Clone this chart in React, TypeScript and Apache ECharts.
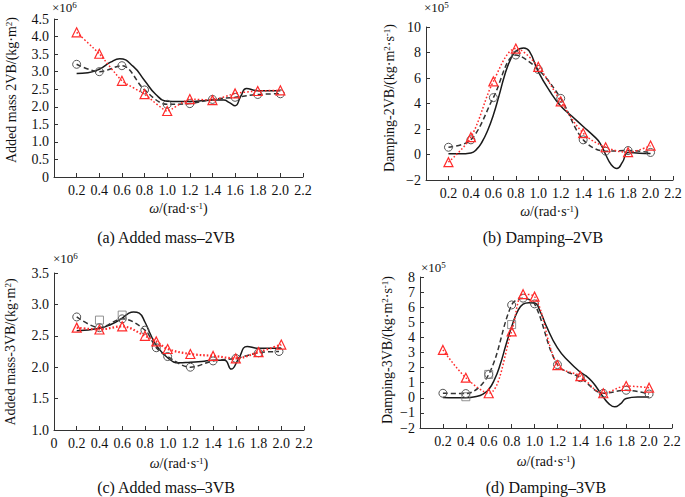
import React, { useEffect, useRef } from "react";
import * as echarts from "echarts";

const FONT = '"Liberation Serif", "Times New Roman", Times, serif';

// ---------- Panel (a): Added mass – 2VB (×10^6) ----------
const aX = [0.2, 0.4, 0.6, 0.8, 1.0, 1.2, 1.4, 1.6, 1.8, 2.0];
const aDashed = [3.21, 3.0, 3.17, 2.48, 2.07, 2.09, 2.21, 2.27, 2.35, 2.37];
const aRed = [4.12, 3.51, 2.74, 2.36, 1.88, 2.22, 2.19, 2.38, 2.45, 2.47];
const aSolidX = [0.2, 0.3, 0.4, 0.5, 0.58, 0.7, 0.8, 0.9, 1.0, 1.1, 1.2, 1.3, 1.4, 1.5, 1.55, 1.6, 1.65, 1.7, 1.8, 1.9, 2.0];
const aSolid = [2.95, 2.97, 3.07, 3.27, 3.37, 3.15, 2.75, 2.35, 2.16, 2.15, 2.15, 2.17, 2.19, 2.19, 2.12, 2.03, 2.3, 2.52, 2.46, 2.46, 2.46];

// ---------- Panel (b): Damping – 2VB (×10^5) ----------
const bX = [0.2, 0.4, 0.6, 0.8, 1.0, 1.2, 1.4, 1.6, 1.8, 2.0];
const bDashed = [0.57, 1.15, 4.46, 7.8, 6.67, 4.4, 1.15, 0.26, 0.31, 0.16];
const bRed = [-0.6, 1.36, 5.73, 8.31, 6.88, 4.17, 1.67, 0.57, 0.18, 0.7];
const bSolidX = [0.2, 0.3, 0.4, 0.45, 0.5, 0.55, 0.6, 0.65, 0.7, 0.75, 0.8, 0.87, 0.92, 1.0, 1.1, 1.2, 1.3, 1.4, 1.5, 1.55, 1.6, 1.65, 1.7, 1.75, 1.8, 1.9, 2.0];
const bSolid = [0.05, 0.05, 0.12, 0.4, 1.0, 1.9, 3.1, 4.6, 6.2, 7.4, 8.1, 8.35, 8.1, 6.5, 5.0, 3.8, 3.0, 2.2, 1.4, 0.9, 0.0, -0.8, -1.1, -0.6, 0.15, 0.1, 0.08];

// ---------- Panel (c): Added mass – 3VB (×10^6) ----------
const cX = [0.2, 0.4, 0.6, 0.8, 0.9, 1.0, 1.2, 1.4, 1.6, 1.8, 1.98];
const cDashed = [2.8, 2.63, 2.77, 2.59, 2.31, 2.17, 2.0, 2.1, 2.14, 2.23, 2.25];
const cRedX = [0.2, 0.4, 0.6, 0.8, 0.9, 1.0, 1.2, 1.4, 1.6, 1.8, 2.0];
const cRed = [2.63, 2.6, 2.65, 2.5, 2.41, 2.29, 2.21, 2.18, 2.14, 2.24, 2.36];
const cSquareX = [0.4, 0.6];
const cSquare = [2.75, 2.83];
const cSolidX = [0.2, 0.4, 0.5, 0.6, 0.65, 0.7, 0.75, 0.8, 0.85, 0.9, 1.0, 1.1, 1.2, 1.3, 1.4, 1.5, 1.56, 1.62, 1.7, 1.8, 1.9, 2.0];
const cSolid = [2.58, 2.62, 2.68, 2.78, 2.85, 2.88, 2.86, 2.72, 2.52, 2.35, 2.15, 2.07, 2.08, 2.09, 2.11, 2.11, 1.97, 2.12, 2.33, 2.3, 2.3, 2.3];

// ---------- Panel (d): Damping – 3VB (×10^5) ----------
const dX = [0.2, 0.4, 0.6, 0.8, 0.9, 1.0, 1.2, 1.4, 1.6, 1.8, 2.0];
const dDashed = [0.3, 0.28, 1.55, 6.15, 6.6, 6.22, 2.2, 1.33, 0.3, 0.5, 0.25];
const dRed = [3.17, 1.33, 0.3, 4.4, 6.86, 6.7, 2.17, 1.44, 0.3, 0.78, 0.67];
const dSquareX = [0.4, 0.6, 0.8];
const dSquare = [0.07, 1.55, 4.85];
const dSolidX = [0.2, 0.3, 0.4, 0.5, 0.55, 0.6, 0.65, 0.7, 0.75, 0.8, 0.85, 0.9, 0.95, 1.0, 1.05, 1.1, 1.2, 1.3, 1.4, 1.45, 1.5, 1.55, 1.6, 1.65, 1.7, 1.75, 1.8, 1.9, 2.0];
const dSolid = [0.02, 0.0, 0.0, 0.1, 0.25, 0.55, 1.2, 2.2, 3.5, 4.7, 5.7, 6.2, 6.3, 6.28, 5.7, 4.8, 3.3, 2.4, 1.7, 1.45, 1.1, 0.6, 0.05, -0.4, -0.6, -0.4, -0.05, 0.05, 0.05];

// ---------- Texts ----------
const captions = ["(a) Added mass–2VB", "(b) Damping–2VB", "(c) Added mass–3VB", "(d) Damping–3VB"];
const yNames = [
  "Added mass 2VB/(kg·m{sup|2})",
  "Damping-2VB/(kg·m{sup|2}·s{sup|-1})",
  "Added mass-3VB/(kg·m{sup|2})",
  "Damping-3VB/(kg·m{sup|2}·s{sup|-1})",
];
const multipliers = ["×10{sup|6}", "×10{sup|5}", "×10{sup|6}", "×10{sup|5}"];
const xName = "{i|ω}/(rad·s{sup|-1})";

const pairs = (xs: number[], ys: number[]) => xs.map((x, i) => [x, ys[i]]);

const RED = "#ff2b2b";
const richStyles = {
  sup: { fontSize: 9, fontFamily: FONT, verticalAlign: "top", color: "#111" },
  i: { fontStyle: "italic", fontSize: 14, fontFamily: FONT, color: "#111" },
};

function App() {
  const ref = useRef<HTMLDivElement>(null);

  useEffect(() => {
    if (!ref.current) return;
    const chart = echarts.init(ref.current, undefined, { renderer: "svg" });

    const grids = [
      { left: 54, top: 19, width: 249, height: 158 },
      { left: 426, top: 27, width: 247, height: 153 },
      { left: 54, top: 273, width: 250, height: 157 },
      { left: 420, top: 277, width: 252, height: 151 },
    ];

    const fmtX = (showZero: boolean) => (v: number) =>
      Math.abs(v) < 1e-9 ? (showZero ? "0" : "") : v.toFixed(1);
    const fmtDec = (v: number) => (Math.abs(v) < 1e-9 ? "0" : v.toFixed(1));
    const fmtInt = (v: number) => (v < 0 ? "−" + Math.abs(Math.round(v)) : String(Math.round(v)));

    const xAxis = [0, 1, 2, 3].map((g) => ({
      type: "value",
      gridIndex: g,
      min: 0,
      max: 2.2,
      interval: 0.2,
      axisLine: { show: true, onZero: false, lineStyle: { color: "#333", width: 1 } },
      axisTick: { show: true, inside: true, length: 4, lineStyle: { color: "#333" } },
      splitLine: { show: false },
      axisLabel: {
        fontFamily: FONT,
        fontSize: 14,
        color: "#111",
        margin: 6,
        formatter: fmtX(g === 2),
      },
      name: xName,
      nameLocation: "middle",
      nameGap: g >= 2 ? 26 : 24,
      nameTextStyle: { fontFamily: FONT, fontSize: 14, color: "#111", rich: richStyles },
    }));

    const yCfg = [
      { min: 0, max: 4.5, interval: 0.5, f: fmtDec },
      { min: -2, max: 10, interval: 2, f: fmtInt },
      { min: 1.0, max: 3.5, interval: 0.5, f: fmtDec },
      { min: -2, max: 8, interval: 1, f: fmtInt },
    ];
    const yAxis = yCfg.map((c, g) => ({
      type: "value",
      gridIndex: g,
      min: c.min,
      max: c.max,
      interval: c.interval,
      axisLine: { show: true, onZero: false, lineStyle: { color: "#333", width: 1 } },
      axisTick: { show: true, inside: true, length: 4, lineStyle: { color: "#333" } },
      splitLine: { show: false },
      axisLabel: { fontFamily: FONT, fontSize: 14, color: "#111", margin: 5, formatter: c.f },
    }));

    const solid = (g: number, xs: number[], ys: number[]) => ({
      type: "line",
      xAxisIndex: g,
      yAxisIndex: g,
      data: pairs(xs, ys),
      smooth: 0.5,
      showSymbol: false,
      symbol: "none",
      lineStyle: { color: "#1a1a1a", width: 1.5 },
      z: 2,
    });
    const dashed = (g: number, xs: number[], ys: number[]) => ({
      type: "line",
      xAxisIndex: g,
      yAxisIndex: g,
      data: pairs(xs, ys),
      smooth: 0.35,
      symbol: "circle",
      symbolSize: 8,
      showSymbol: true,
      itemStyle: { color: "rgba(0,0,0,0)", borderColor: "#555", borderWidth: 1 },
      lineStyle: { color: "#333", width: 1.5, type: [5, 3] },
      z: 3,
    });
    const red = (g: number, xs: number[], ys: number[], w = 1.5, sm = 0.35) => ({
      type: "line",
      xAxisIndex: g,
      yAxisIndex: g,
      data: pairs(xs, ys),
      smooth: sm,
      symbol: "triangle",
      symbolSize: 9,
      showSymbol: true,
      itemStyle: { color: "rgba(0,0,0,0)", borderColor: RED, borderWidth: 1.2 },
      lineStyle: { color: RED, width: w, type: [1.6, 2] },
      z: 5,
    });
    const squares = (g: number, xs: number[], ys: number[]) => ({
      type: "scatter",
      xAxisIndex: g,
      yAxisIndex: g,
      data: pairs(xs, ys),
      symbol: "rect",
      symbolSize: 8,
      itemStyle: { color: "rgba(0,0,0,0)", borderColor: "#777", borderWidth: 1 },
      z: 4,
    });

    const series = [
      solid(0, aSolidX, aSolid),
      dashed(0, aX, aDashed),
      red(0, aX, aRed, 1.5, 0.15),
      solid(1, bSolidX, bSolid),
      dashed(1, bX, bDashed),
      red(1, bX, bRed),
      solid(2, cSolidX, cSolid),
      dashed(2, cX, cDashed),
      squares(2, cSquareX, cSquare),
      red(2, cRedX, cRed, 2.2),
      solid(3, dSolidX, dSolid),
      dashed(3, dX, dDashed),
      squares(3, dSquareX, dSquare),
      red(3, dX, dRed),
    ];

    const yNamePos = [
      [11, 90],
      [389, 98],
      [10, 352],
      [387, 350],
    ];
    const multPos = [
      [52, 7],
      [424, 7],
      [53, 258],
      [421, 267],
    ];
    const capPos = [
      [166, 237],
      [543, 237],
      [166, 487],
      [546, 487],
    ];

    const graphic: any[] = [];
    yNames.forEach((t, i) => {
      graphic.push({
        type: "text",
        x: yNamePos[i][0],
        y: yNamePos[i][1],
        rotation: Math.PI / 2,
        style: {
          text: t,
          fontFamily: FONT,
          fontSize: 14,
          fill: "#111",
          align: "center",
          verticalAlign: "middle",
          rich: { sup: { fontSize: 9, fontFamily: FONT, verticalAlign: "top", fill: "#111" } },
        },
      });
    });
    multipliers.forEach((t, i) => {
      graphic.push({
        type: "text",
        x: multPos[i][0],
        y: multPos[i][1],
        style: {
          text: t,
          fontFamily: FONT,
          fontSize: 13,
          fill: "#111",
          align: "left",
          verticalAlign: "middle",
          rich: { sup: { fontSize: 9, fontFamily: FONT, verticalAlign: "top", fill: "#111" } },
        },
      });
    });
    captions.forEach((t, i) => {
      graphic.push({
        type: "text",
        x: capPos[i][0],
        y: capPos[i][1],
        style: {
          text: t,
          fontFamily: FONT,
          fontSize: 16,
          fill: "#111",
          align: "center",
          verticalAlign: "middle",
        },
      });
    });

    chart.setOption({
      animation: false,
      backgroundColor: "#ffffff",
      grid: grids.map((g) => ({ ...g, containLabel: false })),
      xAxis,
      yAxis,
      series,
      graphic,
    } as any);

    return () => chart.dispose();
  }, []);

  return (
    <div
      ref={ref}
      style={{ position: "absolute", left: 0, top: 0, width: 685, height: 497, background: "#fff" }}
    />
  );
}

export default App;
